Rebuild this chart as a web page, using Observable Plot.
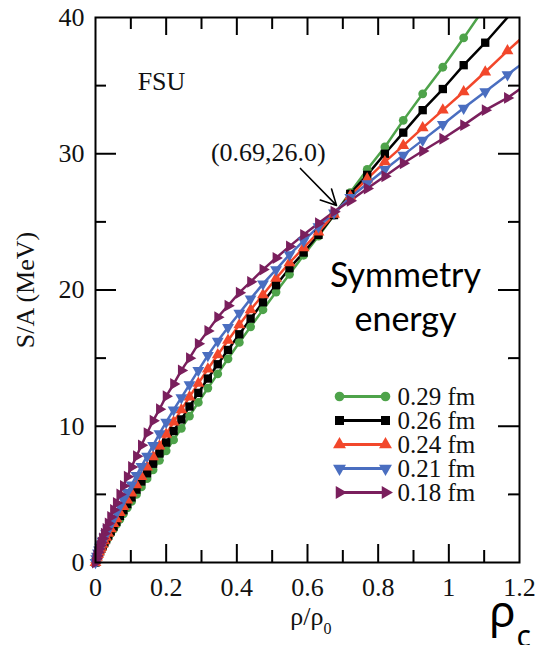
<!DOCTYPE html>
<html><head><meta charset="utf-8">
<script src="https://cdn.jsdelivr.net/npm/d3@7"></script>
<script src="https://cdn.jsdelivr.net/npm/@observablehq/plot@0.6"></script>
<style>
html,body{margin:0;padding:0;background:#fff;}
#wrap{position:relative;width:539px;height:645px;overflow:hidden;background:#fff;}
#legend{position:absolute;left:330px;top:380px;}
</style></head><body><div id="wrap"><div id="legend"></div></div>
<script>
// density rho/rho0 at the markers (shared by all curves)
const rho = [0, 0.002, 0.004, 0.007, 0.010, 0.013, 0.016, 0.020, 0.025, 0.030, 0.036, 0.043, 0.051, 0.059, 0.069, 0.079, 0.090, 0.102, 0.116, 0.130, 0.146, 0.163, 0.181, 0.200, 0.221, 0.243, 0.266, 0.291, 0.318, 0.346, 0.375, 0.407, 0.439, 0.474, 0.511, 0.549, 0.589, 0.631, 0.675, 0.721, 0.769, 0.819, 0.871, 0.926, 0.983, 1.042, 1.103, 1.166, 1.232];
// S/A (MeV) per neutron-skin value
const s029 = [0, 0.17, 0.29, 0.46, 0.62, 0.77, 0.91, 1.10, 1.33, 1.55, 1.81, 2.11, 2.44, 2.77, 3.17, 3.57, 4.01, 4.48, 5.0, 5.55, 6.15, 6.8, 7.5, 8.2, 9.0, 9.85, 10.75, 11.75, 12.8, 13.85, 14.95, 16.15, 17.3, 18.55, 19.85, 21.15, 22.55, 23.95, 25.5, 27.15, 28.85, 30.5, 32.45, 34.4, 36.35, 38.5, 40.8, 43.1, 45.5];
const s026 = [0, 0.20, 0.34, 0.52, 0.69, 0.85, 1.01, 1.21, 1.46, 1.69, 1.97, 2.29, 2.64, 2.99, 3.42, 3.84, 4.29, 4.78, 5.35, 5.95, 6.55, 7.25, 8.0, 8.8, 9.65, 10.5, 11.45, 12.45, 13.5, 14.55, 15.6, 16.75, 17.9, 19.1, 20.35, 21.6, 22.75, 24.05, 25.5, 27.05, 28.45, 30.0, 31.55, 33.2, 34.75, 36.5, 38.15, 40.0, 42.0];
const s024 = [0, 0.22, 0.38, 0.58, 0.77, 0.94, 1.11, 1.33, 1.59, 1.84, 2.14, 2.48, 2.85, 3.21, 3.66, 4.10, 4.58, 5.09, 5.7, 6.3, 7.0, 7.75, 8.55, 9.4, 10.3, 11.2, 12.15, 13.15, 14.2, 15.25, 16.3, 17.45, 18.55, 19.65, 20.85, 22.0, 23.1, 24.25, 25.55, 26.9, 28.15, 29.4, 30.6, 31.9, 33.2, 34.55, 36.0, 37.55, 39.1];
const s021 = [0, 0.28, 0.46, 0.70, 0.92, 1.12, 1.31, 1.56, 1.85, 2.14, 2.47, 2.84, 3.25, 3.65, 4.14, 4.63, 5.14, 5.69, 6.4, 7.05, 7.8, 8.6, 9.45, 10.3, 11.2, 12.1, 13.05, 14.1, 15.2, 16.25, 17.25, 18.3, 19.35, 20.45, 21.5, 22.6, 23.6, 24.65, 25.65, 26.8, 27.8, 28.85, 29.9, 31.0, 32.15, 33.35, 34.55, 35.8, 37.1];
const s018 = [0, 0.28, 0.48, 0.75, 1.00, 1.24, 1.47, 1.76, 2.12, 2.47, 2.87, 3.34, 3.86, 4.37, 5.00, 5.62, 6.29, 7.01, 7.8, 8.6, 9.5, 10.4, 11.25, 12.2, 13.1, 14.1, 15.0, 16.05, 17.0, 18.0, 18.85, 19.8, 20.6, 21.5, 22.35, 23.2, 24.05, 24.9, 25.75, 26.55, 27.45, 28.35, 29.3, 30.2, 31.1, 32.1, 33.2, 34.1, 35.3];

const seriesNames = ["0.29 fm", "0.26 fm", "0.24 fm", "0.21 fm", "0.18 fm"];
const seriesValues = [s029, s026, s024, s021, s018];
const seriesColors = ["#4ea34a", "#000000", "#f2472b", "#4a6ec0", "#7a1f5d"];

const xTicks = [0, 0.2, 0.4, 0.6, 0.8, 1, 1.2];
const xMajor = [0.2, 0.4, 0.6, 0.8, 1.0];
const xMinor = [0.1, 0.3, 0.5, 0.7, 0.9, 1.1];
const yTicks = [0, 10, 20, 30, 40];
const yMajor = [10, 20, 30];
const yMinor = [5, 15, 25, 35];
const crossing = [{rho: 0.69, S: 26.0, label: "(0.69,26.0)"}];

// symbols
const sqrt3 = Math.sqrt(3);
const triangleDown = {draw(ctx, size) {
  const y = -Math.sqrt(size / (sqrt3 * 3));
  ctx.moveTo(0, -y * 2); ctx.lineTo(-sqrt3 * y, y); ctx.lineTo(sqrt3 * y, y); ctx.closePath();
}};
const triangleRight = {draw(ctx, size) {
  const y = -Math.sqrt(size / (sqrt3 * 3));
  ctx.moveTo(-y * 2, 0); ctx.lineTo(y, sqrt3 * y); ctx.lineTo(y, -sqrt3 * y); ctx.closePath();
}};
const seriesSymbols = ["circle", "square", "triangle", triangleDown, triangleRight];
const seriesR = [4.4, 4.7, 4.4, 4.4, 4.4];

const series = seriesNames.map((name, i) => ({
  name, color: seriesColors[i], symbol: seriesSymbols[i], r: seriesR[i],
  data: rho.map((x, j) => ({rho: x, S: seriesValues[i][j]}))
}));

const W = 539, H = 645, mL = 95, mR = 20, mT = 17, mB = 83;
const fw = W - mL - mR, fh = H - mT - mB;
const serif = "'Liberation Serif', 'Times New Roman', serif";

const marks = [];
// inward ticks on all four sides
marks.push(Plot.ruleX(xMajor, {insetTop: fh - 18, strokeWidth: 2}));
marks.push(Plot.ruleX(xMinor, {insetTop: fh - 12, strokeWidth: 2}));
marks.push(Plot.ruleX(xMajor, {insetBottom: fh - 18, strokeWidth: 2}));
marks.push(Plot.ruleX(xMinor, {insetBottom: fh - 12, strokeWidth: 2}));
marks.push(Plot.ruleY(yMajor, {insetRight: fw - 21, strokeWidth: 2}));
marks.push(Plot.ruleY(yMinor, {insetRight: fw - 11, strokeWidth: 2}));
marks.push(Plot.ruleY(yMajor, {insetLeft: fw - 21, strokeWidth: 2}));
marks.push(Plot.ruleY(yMinor, {insetLeft: fw - 11, strokeWidth: 2}));

for (const s of series) {
  marks.push(Plot.line(s.data, {x: "rho", y: "S", stroke: s.color, strokeWidth: 2.5, clip: true}));
}
for (const s of series) {
  marks.push(Plot.dot(s.data.filter(d => d.rho <= 1.2 && d.S <= 39.6),
    {x: "rho", y: "S", symbol: s.symbol, r: s.r, fill: s.color, stroke: "none"}));
}
marks.push(Plot.frame({strokeWidth: 2}));

// annotations
marks.push(Plot.text(["FSU"], {frameAnchor: "top-left", text: d => d, dx: 66, dy: 64,
  fontSize: 26, textAnchor: "middle", lineAnchor: "middle", fill: "#111"}));
marks.push(Plot.text(crossing, {x: "rho", y: "S", text: "label", dx: -71, dy: -56,
  fontSize: 26, textAnchor: "middle", lineAnchor: "middle", fill: "#111"}));
marks.push(Plot.arrow(crossing, {x1: d => d.rho - 0.11, y1: d => d.S + 2.92, x2: "rho", y2: "S",
  stroke: "#000", strokeWidth: 1.6, headLength: 16, headAngle: 55, insetEnd: 4, bend: 0}));
marks.push(Plot.text(["Symmetry\nenergy"], {frameAnchor: "top-left", text: d => d, dx: 310, dy: 277,
  fontFamily: "Lato, 'Open Sans', sans-serif", fontSize: 34, lineHeight: 1.294,
  textAnchor: "middle", lineAnchor: "middle", fill: "#000"}));

// tick labels
marks.push(Plot.text(xTicks, {x: d => d, frameAnchor: "bottom", text: d => String(d), dy: 33,
  fontSize: 26, textAnchor: "middle", lineAnchor: "bottom", fill: "#111"}));
marks.push(Plot.text(yTicks, {y: d => d, frameAnchor: "left", text: d => String(d), dx: -11,
  fontSize: 26, textAnchor: "end", lineAnchor: "middle", fill: "#111"}));
// axis titles
marks.push(Plot.text(["S/A (MeV)"], {frameAnchor: "left", text: d => d, dx: -70, rotate: -90,
  fontSize: 26, textAnchor: "middle", lineAnchor: "middle", fill: "#111"}));
marks.push(Plot.text(["ρ/ρ"], {frameAnchor: "bottom-left", text: d => d, dx: 228, dy: 62,
  fontSize: 26, textAnchor: "end", lineAnchor: "bottom", fill: "#111"}));
marks.push(Plot.text(["0"], {frameAnchor: "bottom-left", text: d => d, dx: 228, dy: 71,
  fontSize: 16, textAnchor: "start", lineAnchor: "bottom", fill: "#111"}));
marks.push(Plot.text(["ρ"], {frameAnchor: "bottom-right", text: d => d, dx: -17, dy: 64,
  fontFamily: "'Noto Sans', 'Open Sans', sans-serif", fontSize: 44, textAnchor: "middle", lineAnchor: "bottom", fill: "#000"}));
marks.push(Plot.text(["c"], {frameAnchor: "bottom-right", text: d => d, dx: -3, dy: 84,
  fontFamily: "'Noto Sans', 'Open Sans', sans-serif", fontSize: 30, textAnchor: "start", lineAnchor: "bottom", fill: "#000"}));

const chart = Plot.plot({
  width: W, height: H, marginLeft: mL, marginRight: mR, marginTop: mT, marginBottom: mB,
  x: {domain: [0, 1.2], axis: null}, y: {domain: [0, 40], axis: null},
  style: {fontFamily: serif, background: "#fff", overflow: "visible", color: "#000"},
  marks
});
document.getElementById("wrap").insertBefore(chart, document.getElementById("legend"));

// legend
const legendMarks = [];
for (const s of series) {
  legendMarks.push(Plot.ruleY([s.name], {x1: 0, x2: 1, stroke: s.color, strokeWidth: 3}));
  legendMarks.push(Plot.dot([0, 1], {x: d => d, y: () => s.name, symbol: s.symbol, r: s.r + 0.4, fill: s.color, stroke: "none"}));
}
legendMarks.push(Plot.text(series, {x: 1, y: "name", text: "name", dx: 12, textAnchor: "start",
  fontSize: 25, fill: "#111"}));
const legend = Plot.plot({
  width: 160, height: 125, margin: 0,
  x: {domain: [0, 1], range: [9, 55], axis: null},
  y: {type: "point", domain: seriesNames, range: [15, 113], padding: 0, axis: null},
  style: {fontFamily: serif, background: "transparent", overflow: "visible"},
  marks: legendMarks
});
document.getElementById("legend").appendChild(legend);
</script></body></html>
